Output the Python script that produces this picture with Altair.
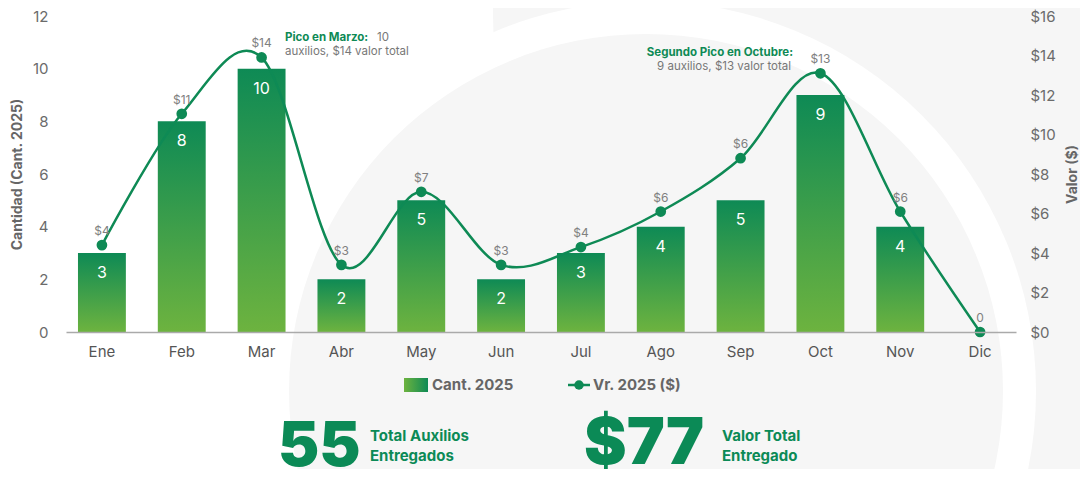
import altair as alt
import pandas as pd

# ---------------- data ----------------
months = ["Ene", "Feb", "Mar", "Abr", "May", "Jun", "Jul", "Ago", "Sep", "Oct", "Nov", "Dic"]
cantidad = [3, 8, 10, 2, 5, 2, 3, 4, 5, 9, 4, 0]
valor = [4.4, 11.05, 13.9, 3.4, 7.1, 3.4, 4.3, 6.1, 8.8, 13.1, 6.1, 0]
valor_labels = ["$4", "$11", "$14", "$3", "$7", "$3", "$4", "$6", "$6", "$13", "$6", "0"]
left_ticks = [0, 2, 4, 6, 8, 10, 12]
right_ticks = [0, 2, 4, 6, 8, 10, 12, 14, 16]
total_auxilios = "55"
total_valor = "$77"

df = pd.DataFrame({"mes": months, "cant": cantidad, "valor": valor, "vlabel": valor_labels})
one = pd.DataFrame({"a": [0]})

GREEN = "#0e8a55"
LIGHT = "#6db33f"
GRAY = "#6b6b6b"
BG_GRAY = "#f6f6f6"
FONT = "Inter"

W, H = 950, 316

xenc = alt.X("mes:N", sort=months,
             scale=alt.Scale(paddingInner=0.4, paddingOuter=0.15),
             axis=alt.Axis(title=None, labelAngle=0, labelFontSize=15, labelColor="#555",
                           labelFont=FONT, labelPadding=12, ticks=False, zindex=1,
                           domainColor="#aaaaaa", domainWidth=1.5))

bar_grad = alt.LinearGradient(gradient="linear",
                              stops=[alt.GradientStop(color=GREEN, offset=0),
                                     alt.GradientStop(color=LIGHT, offset=1)],
                              x1=0, x2=0, y1=0, y2=1)

yl = alt.Y("cant:Q", scale=alt.Scale(domain=[0, 12]),
           axis=alt.Axis(title="Cantidad (Cant. 2025)", values=left_ticks, grid=False,
                         domain=False, ticks=False, labelFontSize=15, labelColor=GRAY,
                         labelFont=FONT, labelPadding=18, titleFont=FONT, titleFontSize=14,
                         titleColor="#666", titleFontWeight="bold", titlePadding=8,
                         labelOverlap=False, zindex=1))

bars = alt.Chart(df).mark_bar(color=bar_grad).encode(x=xenc, y=yl)
bar_text = alt.Chart(df).transform_filter("datum.cant > 0").mark_text(
    color="white", fontSize=16, font=FONT, baseline="middle", dy=20
).encode(x=xenc, y=yl, text="cant:Q")
left = alt.layer(bars, bar_text)

yr = alt.Y("valor:Q", scale=alt.Scale(domain=[0, 16]),
           axis=alt.Axis(title="Valor ($)", orient="right", values=right_ticks, grid=False,
                         domain=False, ticks=False, labelFontSize=15, labelColor=GRAY,
                         labelFont=FONT, labelPadding=14, labelExpr="'$' + datum.value",
                         labelOverlap=False, labelBound=False, zindex=1,
                         titleFont=FONT, titleFontSize=14, titleColor="#666",
                         titleFontWeight="bold", titleAngle=270, titlePadding=24))

line = alt.Chart(df).mark_line(interpolate="cardinal", color=GREEN, strokeWidth=2.5).encode(
    x=xenc, y=yr)
pts = alt.Chart(df).mark_circle(size=115, color=GREEN, opacity=1).encode(x=xenc, y=yr)
pt_text = alt.Chart(df).mark_text(color="#808080", fontSize=12, font=FONT, dy=-10,
                                  baseline="alphabetic").encode(x=xenc, y=yr, text="vlabel:N")
right = alt.layer(line, pts, pt_text)

# ---------------- background decoration ----------------
def circle(r, cx, cy, color):
    return alt.Chart(one).mark_arc(radius=r, theta=0, theta2=6.2832, color=color).encode(
        x=alt.value(cx), y=alt.value(cy))


bg_big = circle(600, 1027, -1, BG_GRAY)
bg_ring = circle(390, 580, 375, "#ffffff")
bg_disk = circle(357, 580, 375, BG_GRAY)


def txt(s, x, y, size=12, color=GRAY, weight="normal", align="left", font=FONT):
    return alt.Chart(one).mark_text(text=s, fontSize=size, color=color, fontWeight=weight,
                                    align=align, baseline="middle", font=font).encode(
        x=alt.value(x), y=alt.value(y))


# annotations
ann = [
    txt("Pico en Marzo:", 219, 22, 11.5, GREEN, "bold"),
    txt("10", 311, 22, 11.5, "#777"),
    txt("auxilios, $14 valor total", 219, 36, 11.5, "#777"),
    txt("Segundo Pico en Octubre:", 727, 37, 11.5, GREEN, "bold", "right"),
    txt("9 auxilios, $13 valor total", 725, 51, 11.5, "#777", "normal", "right"),
]

# legend
leg_grad = alt.LinearGradient(gradient="linear",
                              stops=[alt.GradientStop(color=LIGHT, offset=0),
                                     alt.GradientStop(color=GREEN, offset=1)],
                              x1=0, x2=1, y1=0, y2=0)
leg_rect = alt.Chart(one).mark_rect(color=leg_grad).encode(
    x=alt.value(338), x2=alt.value(362), y=alt.value(362), y2=alt.value(376))
leg_rule = alt.Chart(one).mark_rule(color=GREEN, strokeWidth=2.5).encode(
    x=alt.value(502), x2=alt.value(524), y=alt.value(369))
leg_pt = alt.Chart(one).mark_circle(color=GREEN, size=90, opacity=1).encode(
    x=alt.value(513), y=alt.value(369))
legend = [leg_rect, leg_rule, leg_pt,
          txt("Cant. 2025", 366, 369, 15, "#666", "bold"),
          txt("Vr. 2025 ($)", 527, 369, 15, "#666", "bold")]

# KPIs
KPI = "#0b8a56"
kpis = [
    alt.Chart(one).mark_text(text=total_auxilios, fontSize=62, fontWeight=900, color=KPI,
                             align="left", baseline="alphabetic", font=FONT).encode(
        x=alt.value(212), y=alt.value(450)),
    txt("Total Auxilios", 304, 420, 15, KPI, "bold"),
    txt("Entregados", 304, 440, 15, KPI, "bold"),
    alt.Chart(one).mark_text(text=total_valor, fontSize=64, fontWeight=900, color=KPI,
                             align="left", baseline="alphabetic", font=FONT).encode(
        x=alt.value(518), y=alt.value(448)),
    txt("Valor Total", 656, 420, 15, KPI, "bold"),
    txt("Entregado", 656, 440, 15, KPI, "bold"),
]

chart = alt.layer(bg_big, bg_ring, bg_disk, left, right, *ann, *legend, *kpis).resolve_scale(
    y="independent"
).properties(
    width=W, height=H, autosize=alt.AutoSizeParams(type="none"),
    padding={"left": 58, "right": 64, "top": 8, "bottom": 137},
    background="#ffffff",
).configure_view(stroke=None)

chart.save("out.html", embed_options={"renderer": "svg", "actions": False})
